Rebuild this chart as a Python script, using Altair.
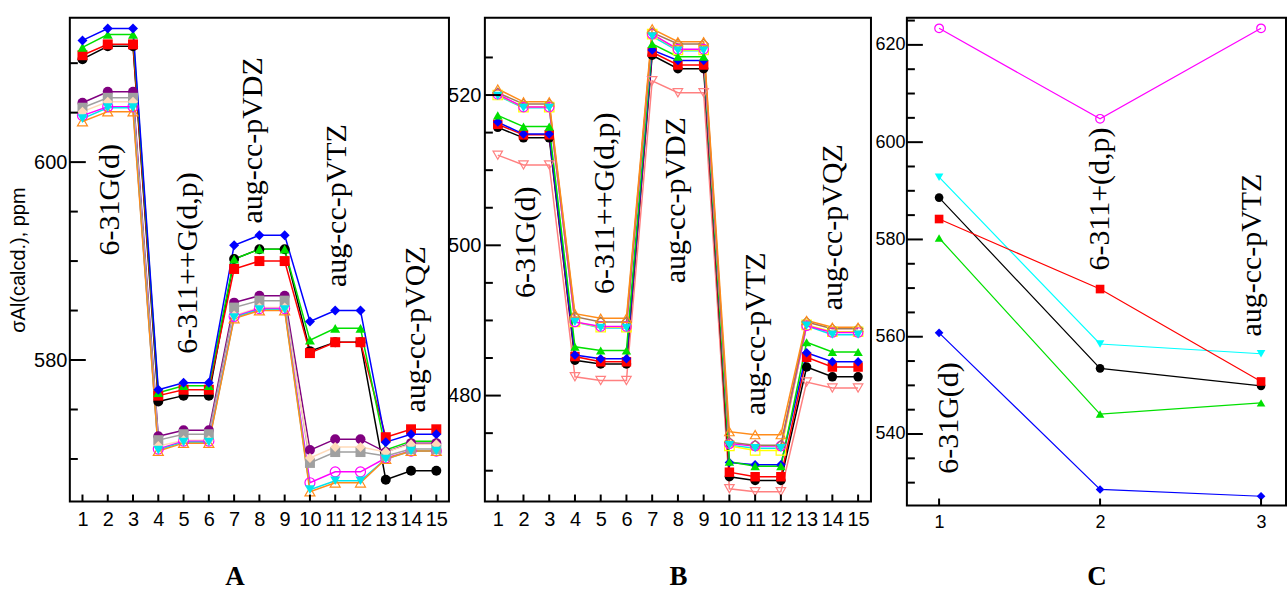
import altair as alt
import pandas as pd

# ---------------- data ----------------
X15 = list(range(1, 16))
X3 = [1, 2, 3]

# Panel A
A_names = ["black", "red", "green", "blue", "purple", "gray", "peach", "magenta", "cyan", "orange"]
A_colors = ["#000000", "#ff0000", "#00e000", "#0000ff", "#800080", "#a0a0a0", "#ffdab9", "#ff00ff", "#00e5ee", "#ff8c1a"]
A_shapes = ["circle", "square", "triangle-up", "diamond", "circle", "square", "diamond", "circle", "triangle-down", "triangle-up"]
A_fill = ["f", "f", "f", "f", "f", "f", "f", "o", "f", "o"]
A_black = [610.4, 611.7, 611.7, 575.8, 576.4, 576.4, 590.2, 591.2, 591.2, 580.9, 581.8, 581.8, 567.9, 568.8, 568.8]
A_red = [610.8, 611.9, 611.9, 576.4, 577.0, 577.0, 589.2, 590.0, 590.0, 580.7, 581.8, 581.8, 572.2, 573.0, 573.0]
A_green = [611.6, 612.9, 612.9, 576.7, 577.4, 577.4, 590.2, 591.2, 591.2, 582.0, 583.2, 583.2, 570.9, 571.8, 571.8]
A_blue = [612.3, 613.5, 613.5, 577.0, 577.7, 577.7, 591.6, 592.6, 592.6, 583.9, 585.0, 585.0, 571.7, 572.5, 572.5]
A_purple = [606.0, 607.1, 607.1, 572.3, 572.9, 572.9, 585.8, 586.5, 586.5, 570.9, 572.0, 572.0, 570.7, 571.6, 571.6]
A_gray = [605.5, 606.5, 606.5, 571.9, 572.5, 572.5, 585.3, 586.0, 586.0, 569.6, 570.7, 570.7, 570.3, 571.0, 571.0]
A_peach = [605.1, 606.1, 606.1, 571.3, 571.9, 571.9, 584.5, 585.3, 585.3, 570.1, 571.2, 571.2, 570.7, 571.5, 571.5]
A_magenta = [604.7, 605.6, 605.6, 571.0, 571.8, 571.8, 584.4, 585.2, 585.2, 567.6, 568.7, 568.7, 570.1, 570.8, 570.8]
A_cyan = [604.4, 605.5, 605.5, 570.9, 571.7, 571.7, 584.3, 585.1, 585.1, 566.9, 567.8, 567.8, 570.0, 570.8, 570.8]
A_orange = [604.1, 605.1, 605.1, 570.8, 571.6, 571.6, 584.2, 585.0, 585.0, 566.7, 567.6, 567.6, 570.0, 570.8, 570.8]
A_values = [A_black, A_red, A_green, A_blue, A_purple, A_gray, A_peach, A_magenta, A_cyan, A_orange]

# Panel B
B_names = ["salmon", "black", "red", "blue", "green", "cyan", "yellow", "magenta", "brown", "orange"]
B_colors = ["#ff8080", "#000000", "#ff0000", "#0000ff", "#00e000", "#00e5ee", "#ffff00", "#ff00ff", "#a0785a", "#ff8c1a"]
B_shapes = ["triangle-down", "circle", "square", "diamond", "triangle-up", "triangle-down", "square", "circle", "diamond", "triangle-up"]
B_fill = ["o", "f", "f", "f", "f", "f", "o", "o", "o", "o"]
B_salmon = [512.0, 510.7, 510.7, 482.5, 482.0, 482.0, 521.9, 520.3, 520.3, 467.6, 467.2, 467.2, 481.8, 481.0, 481.0]
B_black = [515.7, 514.3, 514.3, 484.7, 484.2, 484.2, 525.3, 523.5, 523.5, 469.2, 468.7, 468.7, 483.8, 482.5, 482.5]
B_red = [516.1, 514.7, 514.7, 485.2, 484.5, 484.5, 525.7, 524.0, 524.0, 469.8, 469.2, 469.2, 485.1, 483.8, 483.8]
B_blue = [516.4, 514.8, 514.8, 485.4, 484.9, 484.9, 526.0, 524.6, 524.6, 471.1, 470.8, 470.8, 485.7, 484.5, 484.5]
B_green = [517.3, 515.8, 515.8, 486.5, 486.0, 486.0, 526.8, 525.1, 525.1, 471.2, 470.6, 470.6, 487.1, 485.8, 485.8]
B_cyan = [519.9, 518.3, 518.3, 489.8, 489.0, 489.0, 527.8, 525.9, 525.9, 473.4, 473.0, 473.0, 489.3, 488.1, 488.1]
B_yellow = [520.0, 518.4, 518.4, 489.8, 489.1, 489.1, 528.1, 526.0, 526.0, 473.3, 472.7, 472.7, 489.4, 488.5, 488.5]
B_magenta = [520.1, 518.4, 518.4, 489.8, 489.2, 489.2, 528.1, 526.1, 526.1, 473.6, 473.3, 473.3, 489.3, 488.4, 488.4]
B_brown = [520.3, 518.8, 518.8, 490.5, 489.8, 489.8, 528.3, 526.8, 526.8, 473.8, 473.4, 473.4, 489.8, 488.9, 488.9]
B_orange = [520.8, 519.1, 519.1, 490.9, 490.3, 490.3, 528.8, 527.1, 527.1, 475.2, 474.8, 474.8, 490.0, 489.1, 489.1]
B_values = [B_salmon, B_black, B_red, B_blue, B_green, B_cyan, B_yellow, B_magenta, B_brown, B_orange]

# Panel C
C_names = ["magenta", "cyan", "black", "red", "green", "blue"]
C_colors = ["#ff00ff", "#00ffff", "#000000", "#ff0000", "#00e000", "#0000ff"]
C_shapes = ["circle", "triangle-down", "circle", "square", "triangle-up", "diamond"]
C_fill = ["o", "f", "f", "f", "f", "f"]
C_magenta = [623.4, 604.8, 623.4]
C_cyan = [592.8, 558.5, 556.5]
C_black = [588.6, 553.5, 549.9]
C_red = [584.2, 569.8, 550.8]
C_green = [580.3, 544.1, 546.4]
C_blue = [560.8, 528.6, 527.2]
C_values = [C_magenta, C_cyan, C_black, C_red, C_green, C_blue]

# basis-set annotations (text, x, y in data units)
A_ann = ["6-31G(d)", "6-311++G(d,p)", "aug-cc-pVDZ", "aug-cc-pVTZ", "aug-cc-pVQZ"]
A_ann_x = [2.08, 5.16, 7.76, 11.08, 14.2]
A_ann_y = [596.2, 589.8, 602.2, 595.6, 583.1]
B_ann = ["6-31G(d)", "6-311++G(d,p)", "aug-cc-pVDZ", "aug-cc-pVTZ", "aug-cc-pVQZ"]
B_ann_x = [2.09, 5.16, 7.92, 11.03, 14.02]
B_ann_y = [500.4, 505.6, 506.0, 488.2, 502.4]
C_ann = ["6-31G(d)", "6-311+(d,p)", "aug-cc-pVTZ"]
C_ann_x = [1.064, 2.0, 2.944]
C_ann_y = [543.3, 588.3, 576.8]

A_ymajor = [580, 600]
A_yminor = [570, 575, 585, 590, 595, 605, 610]
B_ymajor = [480, 500, 520]
B_yminor = [470, 475, 485, 490, 495, 505, 510, 515, 525]
C_ymajor = [540, 560, 580, 600, 620]
C_yminor = [530, 535, 545, 550, 555, 565, 570, 575, 585, 590, 595, 605, 610, 615, 625]

SERIF = "Liberation Serif"
SANS = "Liberation Sans"


def panel(names, colors, shapes, fills, values, xs, xdom, ydom, w, h,
          ymaj, ymin, ann, ann_x, ann_y, ytitle, xtitle, title_x,
          sym, lw, lab_size, title_pad, ylab_pad):
    rows = []
    for n, f, vals in zip(names, fills, values):
        for x, v in zip(xs, vals):
            rows.append({"series": n, "x": x, "y": v, "fill": f})
    df = pd.DataFrame(rows)
    xsc = alt.Scale(domain=xdom, nice=False, zero=False)
    ysc = alt.Scale(domain=ydom, nice=False, zero=False)
    xaxis_kw = dict(values=xs, title=xtitle, ticks=False, domain=False, grid=False,
                    labelPadding=8, labelFontSize=lab_size, labelOverlap=False,
                    labelFlush=False, titleFont=SERIF, titleFontSize=27,
                    titleFontWeight="bold", titlePadding=title_pad, format="d")
    if title_x is not None:
        xaxis_kw["titleX"] = title_x
    X = alt.X("x:Q", scale=xsc, axis=alt.Axis(**xaxis_kw))
    yaxis_kw = dict(values=ymaj, ticks=False, domain=False, grid=False,
                    labelPadding=ylab_pad, labelFontSize=lab_size, format="d",
                    titleFont=SANS, titleFontSize=20, titleFontWeight="normal",
                    titlePadding=5)
    yaxis_kw["title"] = ytitle
    Y = alt.Y("y:Q", scale=ysc, axis=alt.Axis(**yaxis_kw))
    color = alt.Color("series:N", scale=alt.Scale(domain=names, range=colors), legend=None)
    shape = alt.Shape("series:N", scale=alt.Scale(domain=names, range=shapes), legend=None)

    base = alt.Chart(df)
    lines = base.mark_line(strokeWidth=lw).encode(x=X, y=Y, color=color, detail="series:N", order="x:Q")
    pf = base.transform_filter("datum.fill == 'f'").mark_point(
        filled=True, size=sym, opacity=1).encode(x=X, y=Y, color=color, shape=shape)
    po = base.transform_filter("datum.fill == 'o'").mark_point(
        filled=False, size=sym, opacity=1, strokeWidth=1.2).encode(x=X, y=Y, color=color, shape=shape)

    tmaj = alt.Chart(pd.DataFrame({"y": ymaj})).mark_rule(color="black", strokeWidth=2).encode(
        y=Y, x=alt.value(0), x2=alt.value(16))
    tmin = alt.Chart(pd.DataFrame({"y": ymin})).mark_rule(color="black", strokeWidth=2).encode(
        y=Y, x=alt.value(0), x2=alt.value(8))
    tx = alt.Chart(pd.DataFrame({"x": xs})).mark_rule(color="black", strokeWidth=2).encode(
        x=X, y=alt.value(h), y2=alt.value(h - 7))
    txt = alt.Chart(pd.DataFrame({"x": ann_x, "y": ann_y, "t": ann})).mark_text(
        angle=270, font=SERIF, fontSize=30, color="black", align="center", baseline="middle"
    ).encode(x=X, y=Y, text="t:N")

    return alt.layer(lines, po, pf, tmaj, tmin, tx, txt).properties(width=w, height=h)


pA = panel(A_names, A_colors, A_shapes, A_fill, A_values, X15, [0.5, 15.5], [565.7, 614.6], 380, 485,
           A_ymajor, A_yminor, A_ann, A_ann_x, A_ann_y, "σAl(calcd.), ppm", "A", 165,
           100, 1.5, 20, 34, 3)
pB = panel(B_names, B_colors, B_shapes, B_fill, B_values, X15, [0.5, 15.5], [465.9, 530.3], 387, 485,
           B_ymajor, B_yminor, B_ann, B_ann_x, B_ann_y, None, "B", None,
           90, 1.5, 20, 34, 4)
pC = panel(C_names, C_colors, C_shapes, C_fill, C_values, X3, [0.8, 3.155], [525.3, 625.6], 380, 489,
           C_ymajor, C_yminor, C_ann, C_ann_x, C_ann_y, None, "C", None,
           75, 1.2, 18, 32, 2)

chart = alt.hconcat(pA, pB, pC, spacing=36, bounds="flush").resolve_scale(
    color="independent", shape="independent"
).properties(
    padding={"left": 7, "top": 16, "right": 0, "bottom": 0},
    background="white"
).configure_view(stroke="black", strokeWidth=2).configure_axis(
    labelFont=SANS, labelColor="black", titleColor="black"
)

chart.save("out.html", embed_options={"renderer": "svg", "actions": False})
